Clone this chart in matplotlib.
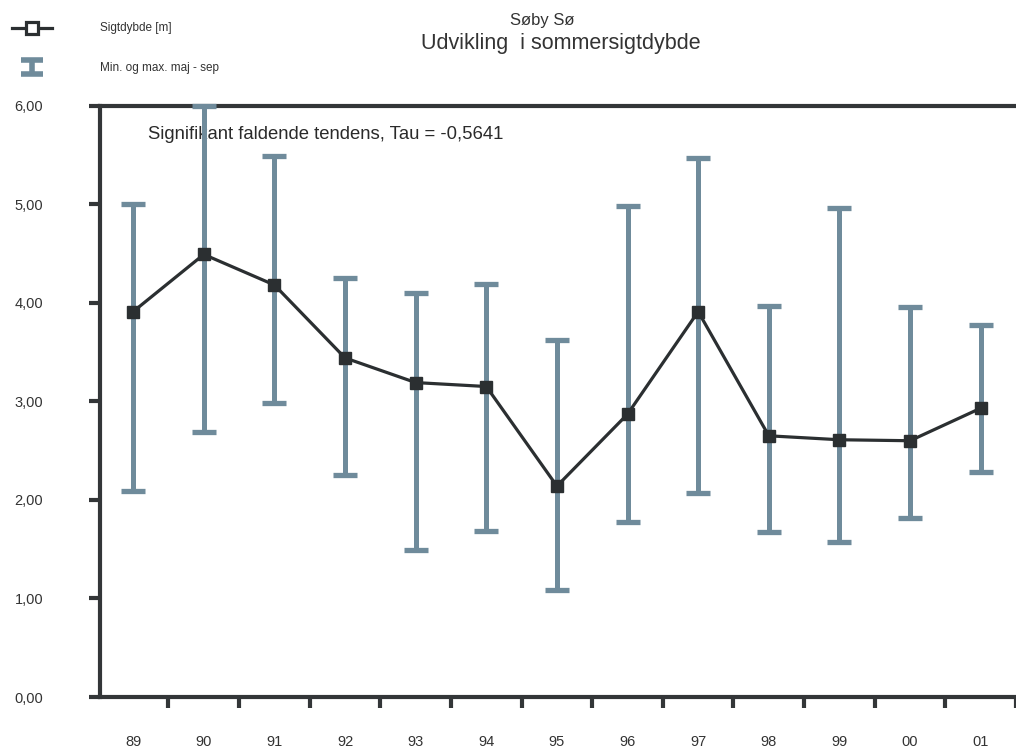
import matplotlib
matplotlib.use("Agg")
import matplotlib.pyplot as plt
import numpy as np

plt.rcParams['font.family'] = ['Liberation Sans', 'DejaVu Sans']

# Summer Secchi depth, Søby Sø
years = ["89", "90", "91", "92", "93", "94", "95", "96", "97", "98", "99", "00", "01"]
mean_depth = [3.91, 4.49, 4.18, 3.44, 3.19, 3.15, 2.14, 2.87, 3.91, 2.65, 2.61, 2.60, 2.93]
max_depth = [5.00, 6.00, 5.49, 4.25, 4.10, 4.19, 3.62, 4.98, 5.47, 3.97, 4.96, 3.96, 3.77]
min_depth = [2.09, 2.69, 2.98, 2.25, 1.49, 1.68, 1.09, 1.78, 2.07, 1.67, 1.57, 1.82, 2.28]
y_ticks = [0, 1, 2, 3, 4, 5, 6]
y_ticklabels = ["0,00", "1,00", "2,00", "3,00", "4,00", "5,00", "6,00"]

bar_color = "#6f8b9b"
line_color = "#2b2f31"
axis_color = "#333638"

fig = plt.figure(figsize=(10.16, 7.52), dpi=100)
ax = fig.add_axes([0.0984, 0.0731, 0.9016, 0.7865])

x = np.arange(len(years))
mean = np.array(mean_depth)
err = [mean - np.array(min_depth), np.array(max_depth) - mean]

ax.errorbar(x, mean, yerr=err, fmt="none", ecolor=bar_color, elinewidth=3.6,
            capsize=8.5, capthick=3.8, zorder=4, clip_on=False)
ax.plot(x, mean, color=line_color, lw=2.3, marker="s", ms=8.5,
        mfc=line_color, mec=line_color, zorder=5, clip_on=False)

ax.set_xlim(-0.47, 12.4)
ax.set_ylim(0, 6)

for side in ("left", "bottom", "top"):
    ax.spines[side].set_linewidth(3)
    ax.spines[side].set_color(axis_color)
    ax.spines[side].set_zorder(3)
ax.spines["right"].set_visible(False)

ax.set_yticks(y_ticks)
ax.set_yticklabels(y_ticklabels)
ax.tick_params(axis="y", direction="out", length=8, width=3, color=axis_color,
               labelsize=10.5, pad=33, labelcolor="#333333")

ax.set_xticks(x)
ax.set_xticklabels(years)
ax.set_xticks(np.arange(len(years)) + 0.5, minor=True)
ax.tick_params(axis="x", which="major", length=0, labelsize=10.5, pad=27,
               labelcolor="#333333")
ax.tick_params(axis="x", which="minor", direction="out", length=8, width=3,
               color=axis_color)

ax.text(0.21, 5.71, "Signifikant faldende tendens, Tau = -0,5641",
        fontsize=13.3, color="#2a2a2a", va="center", ha="left", zorder=2)

# Titles
fig.text(0.534, 0.973, "Søby Sø", ha="center", va="center", fontsize=12,
         color="#333333")
fig.text(0.552, 0.942, "Udvikling  i sommersigtdybde", ha="center", va="center",
         fontsize=15.5, color="#333333")

# Legend drawn in figure coordinates
lax = fig.add_axes([0, 0.88, 0.35, 0.12])
lax.set_xlim(0, 357)
lax.set_ylim(90, 0)
lax.axis("off")
lax.plot([12, 52], [28, 28], color=line_color, lw=2.3)
lax.plot([32], [28], marker="s", ms=9, mfc="white", mec=line_color, mew=2.3)
lax.errorbar([32], [67], yerr=[[7], [7]], fmt="none", ecolor=bar_color,
             elinewidth=4, capsize=8, capthick=4)
lax.text(100, 28, "Sigtdybde [m]", fontsize=8.5, va="center", color="#333333")
lax.text(100, 68, "Min. og max. maj - sep", fontsize=8.5, va="center",
         color="#333333")

fig.savefig("out.png", dpi=100, facecolor="white")
